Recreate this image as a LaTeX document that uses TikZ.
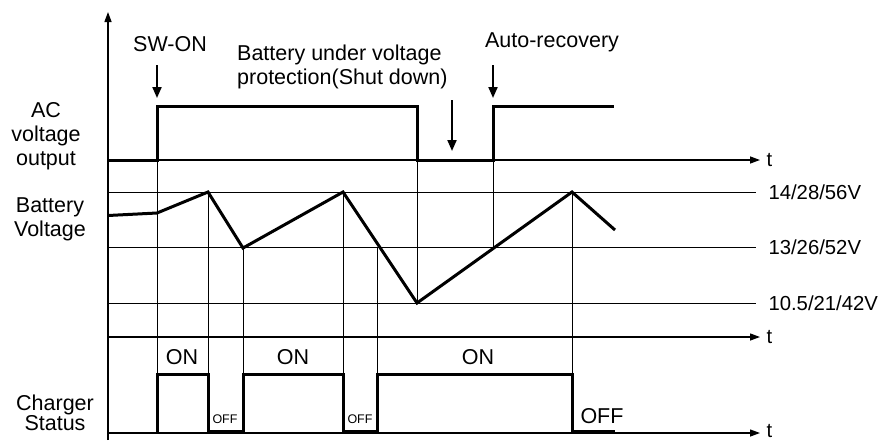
\documentclass[tikz,border=0pt]{standalone}
\usepackage{fontspec}
\setmainfont{Liberation Sans}
\usepackage{tikz}
\usetikzlibrary{arrows.meta}

\begin{document}
\begin{tikzpicture}[x=1pt,y=-1pt,
 sig/.style={line width=3pt,line join=miter},
 gridline/.style={line width=1pt},
 axis/.style={line width=1.3pt,-{Triangle[length=10pt,width=7pt]}},
 marker/.style={line width=2pt,-{Triangle[length=11pt,width=9pt]}},
 note/.style={font=\fontsize{21.5}{24}\selectfont,inner sep=0pt},
 level/.style={font=\fontsize{20.3}{24}\selectfont,inner sep=0pt},
 tiny/.style={font=\fontsize{12.5}{14}\selectfont,inner sep=0pt}]
\useasboundingbox (0,0) rectangle (882,440);
% time marks
\coordinate (sw) at (157,0);
\coordinate (pk1) at (208,0);
\coordinate (vl1) at (243,0);
\coordinate (pk2) at (343,0);
\coordinate (cr) at (377,0);
\coordinate (sd) at (417,0);
\coordinate (ar) at (493,0);
\coordinate (pk3) at (572,0);
% axes and levels
\draw[axis] (108,440) -- (108,12);
\draw[axis] (108,160) -- (760,160) node[level,right=6pt] (tac) {t};
\draw[axis] (108,337) -- (760,337) node[level,right=6pt] (tbat) {t};
\draw[axis] (108,433) -- (760,433) node[level,right=6pt,yshift=2pt] (tchg) {t};
\draw[gridline] (108,192) -- (756,192) node[level,anchor=west,xshift=12pt] (vhi) {14/28/56V};
\draw[gridline] (108,247) -- (756,247) node[level,anchor=west,xshift=12pt] (vmid) {13/26/52V};
\draw[gridline] (108,303) -- (756,303) node[level,anchor=west,xshift=12pt] (vlo) {10.5/21/42V};
% vertical guides
\draw[gridline] (sw |- 0,160) -- (sw |- 0,433);
\draw[gridline] (pk1 |- 0,192) -- (pk1 |- 0,433);
\draw[gridline] (vl1 |- 0,248) -- (vl1 |- 0,433);
\draw[gridline] (pk2 |- 0,192) -- (pk2 |- 0,433);
\draw[gridline] (cr |- 0,247) -- (cr |- 0,433);
\draw[gridline] (sd |- 0,106) -- (sd |- 0,303);
\draw[gridline] (ar |- 0,106) -- (ar |- 0,247);
\draw[gridline] (pk3 |- 0,192) -- (pk3 |- 0,433);
% AC voltage output
\draw[sig] (108,160) -- (sw |- 0,160) -- (sw |- 0,106) -- (sd |- 0,106) -- (sd |- 0,160)
 -- (ar |- 0,160) -- (ar |- 0,106) -- (614,106);
% battery voltage
\draw[sig] (108,215.5) -- (sw |- 0,213) -- (pk1 |- 0,192) -- (vl1 |- 0,248) -- (pk2 |- 0,192)
 -- (sd |- 0,303) -- (pk3 |- 0,192) -- (615,230);
% charger status
\draw[sig] (sw |- 0,432) -- (sw |- 0,374) -- (pk1 |- 0,374) -- (pk1 |- 0,431) -- (vl1 |- 0,431)
 -- (vl1 |- 0,374) -- (pk2 |- 0,374) -- (pk2 |- 0,431) -- (cr |- 0,431) -- (cr |- 0,374)
 -- (pk3 |- 0,374) -- (pk3 |- 0,431) -- (615,431);
% labels
\node[note,align=center] (ac) at (46,136) {AC\\voltage\\output};
\node[note,align=center] (bat) at (50,219.5) {Battery\\Voltage};
\node[note,align=center,font=\fontsize{21.5}{20.5}\selectfont] (chg) at (55,413) {Charger\\Status};
\node[note] (swon) at (170,44.5) {SW-ON};
\node[note,align=left,anchor=west] (uvp) at (237,67) {Battery under voltage\\protection(Shut down)};
\node[note] (auto) at (552,42.5) {Auto-recovery};
\coordinate (swa) at (157,65);
\coordinate (sda) at (452,100);
\coordinate (ara) at (493,65);
\draw[marker] (swa) -- ++(0,33);
\draw[marker] (sda) -- ++(0,51);
\draw[marker] (ara) -- ++(0,33);
\node[note] (on1) at (182,357) {ON};
\node[note] (on2) at (293,357) {ON};
\node[note] (on3) at (478,357) {ON};
\node[tiny] (off1) at (225,419.5) {OFF};
\node[tiny] (off2) at (360,419.5) {OFF};
\node[note] (off3) at (602,416) {OFF};
\end{tikzpicture}
\end{document}
